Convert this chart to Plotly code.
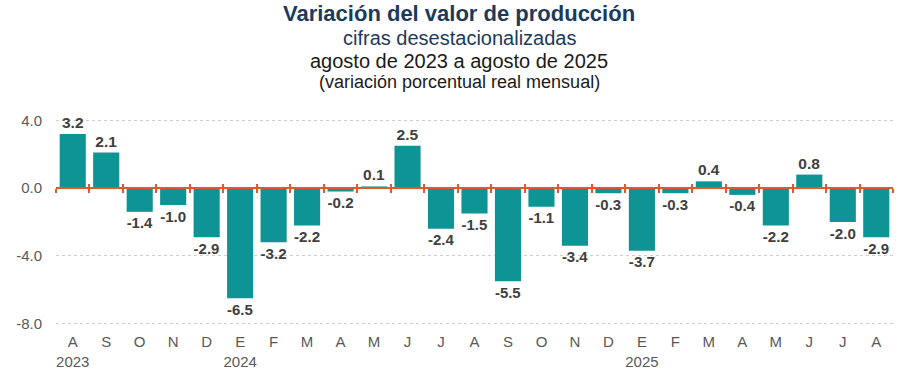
import plotly.graph_objects as go

months = ["A", "S", "O", "N", "D", "E", "F", "M", "A", "M", "J", "J", "A",
          "S", "O", "N", "D", "E", "F", "M", "A", "M", "J", "J", "A"]
years = ["2023", "", "", "", "", "2024", "", "", "", "", "", "", "",
         "", "", "", "", "2025", "", "", "", "", "", "", ""]
values = [3.2, 2.1, -1.4, -1.0, -2.9, -6.5, -3.2, -2.2, -0.2, 0.1, 2.5, -2.4, -1.5,
          -5.5, -1.1, -3.4, -0.3, -3.7, -0.3, 0.4, -0.4, -2.2, 0.8, -2.0, -2.9]
ytick_vals = [4.0, 0.0, -4.0, -8.0]

cats = list(range(len(values)))
ticktext = [m + ("<br>" + y if y else "") for m, y in zip(months, years)]
labels = [f"{v:.1f}" for v in values]

FONT = "Arial, Liberation Sans, sans-serif"
BAR = "#0E9494"
ORANGE = "#E2582A"

fig = go.Figure()
fig.add_trace(go.Bar(
    x=cats, y=values, marker=dict(color=BAR, line=dict(width=0)),
    text=labels, textposition="outside", cliponaxis=False,
    textfont=dict(family=FONT, size=15.5, color="#404040", weight="bold"),
    hoverinfo="skip", xaxis="x", yaxis="y",
))
# invisible traces binding the zero-line tick axes
for ax in ("x2", "x3"):
    fig.add_trace(go.Scatter(x=cats, y=[0] * len(cats), mode="markers",
                             marker=dict(opacity=0), xaxis=ax, yaxis="y",
                             hoverinfo="skip", showlegend=False))

W, H = 918, 379
L, R, T, B = 56, 25, 117, 52
ph = H - T - B
ymin, ymax = -8.2, 4.2
zero_pos = (0 - ymin) / (ymax - ymin)

def ypaper(pix):
    return (H - B - pix) / ph

xr = [-0.5, len(values) - 0.5]
bounds = [i - 0.5 for i in range(len(values) + 1)]

fig.update_layout(
    width=W, height=H,
    margin=dict(l=L, r=R, t=T, b=B, autoexpand=False),
    paper_bgcolor="white", plot_bgcolor="white",
    showlegend=False, bargap=0.22,
    font=dict(family=FONT, color="#595959"),
    xaxis=dict(range=xr, tickmode="array", tickvals=cats, ticktext=ticktext,
               showgrid=False, zeroline=False, showline=False, ticks="",
               ticklabelstandoff=4,
               automargin=False, tickfont=dict(size=15, color="#595959")),
    xaxis2=dict(range=xr, overlaying="x", anchor="free", position=zero_pos,
                tickmode="array", tickvals=bounds,
                ticks="outside", ticklen=4, tickwidth=2, tickcolor=ORANGE,
                showticklabels=False, showgrid=False, zeroline=False,
                automargin=False,
                showline=True, linecolor=ORANGE, linewidth=2),
    xaxis3=dict(range=xr, overlaying="x", anchor="free", position=zero_pos,
                tickmode="array", tickvals=bounds,
                ticks="inside", ticklen=4, tickwidth=2, tickcolor=ORANGE,
                showticklabels=False, showgrid=False, zeroline=False,
                automargin=False, showline=False),
    yaxis=dict(range=[ymin, ymax], tickmode="array", tickvals=ytick_vals,
               ticktext=[f"{v:.1f}" for v in ytick_vals],
               showgrid=True, gridcolor="#CFCFCF", griddash="dot", gridwidth=1,
               zeroline=False, showline=False, ticks="",
               ticklabelstandoff=13, automargin=False,
               tickfont=dict(size=15, color="#595959")),
)

titles = [
    ("Variación del valor de producción", 13, 22, "#1B3A5C", "bold"),
    ("cifras desestacionalizadas", 38, 20, "#1B3A5C", "normal"),
    ("agosto de 2023 a agosto de 2025", 61, 20, "#1A1A1A", "normal"),
    ("(variación porcentual real mensual)", 82, 18, "#1A1A1A", "normal"),
]
for txt, pix, size, color, weight in titles:
    fig.add_annotation(text=txt, xref="paper", yref="paper",
                       x=(W / 2 - L) / (W - L - R), y=ypaper(pix),
                       xanchor="center", yanchor="middle", showarrow=False,
                       font=dict(family=FONT, size=size, color=color, weight=weight))

fig.write_html("out.html", config={"displayModeBar": False},
               post_script="document.body.style.margin='0';document.body.style.padding='0';")
